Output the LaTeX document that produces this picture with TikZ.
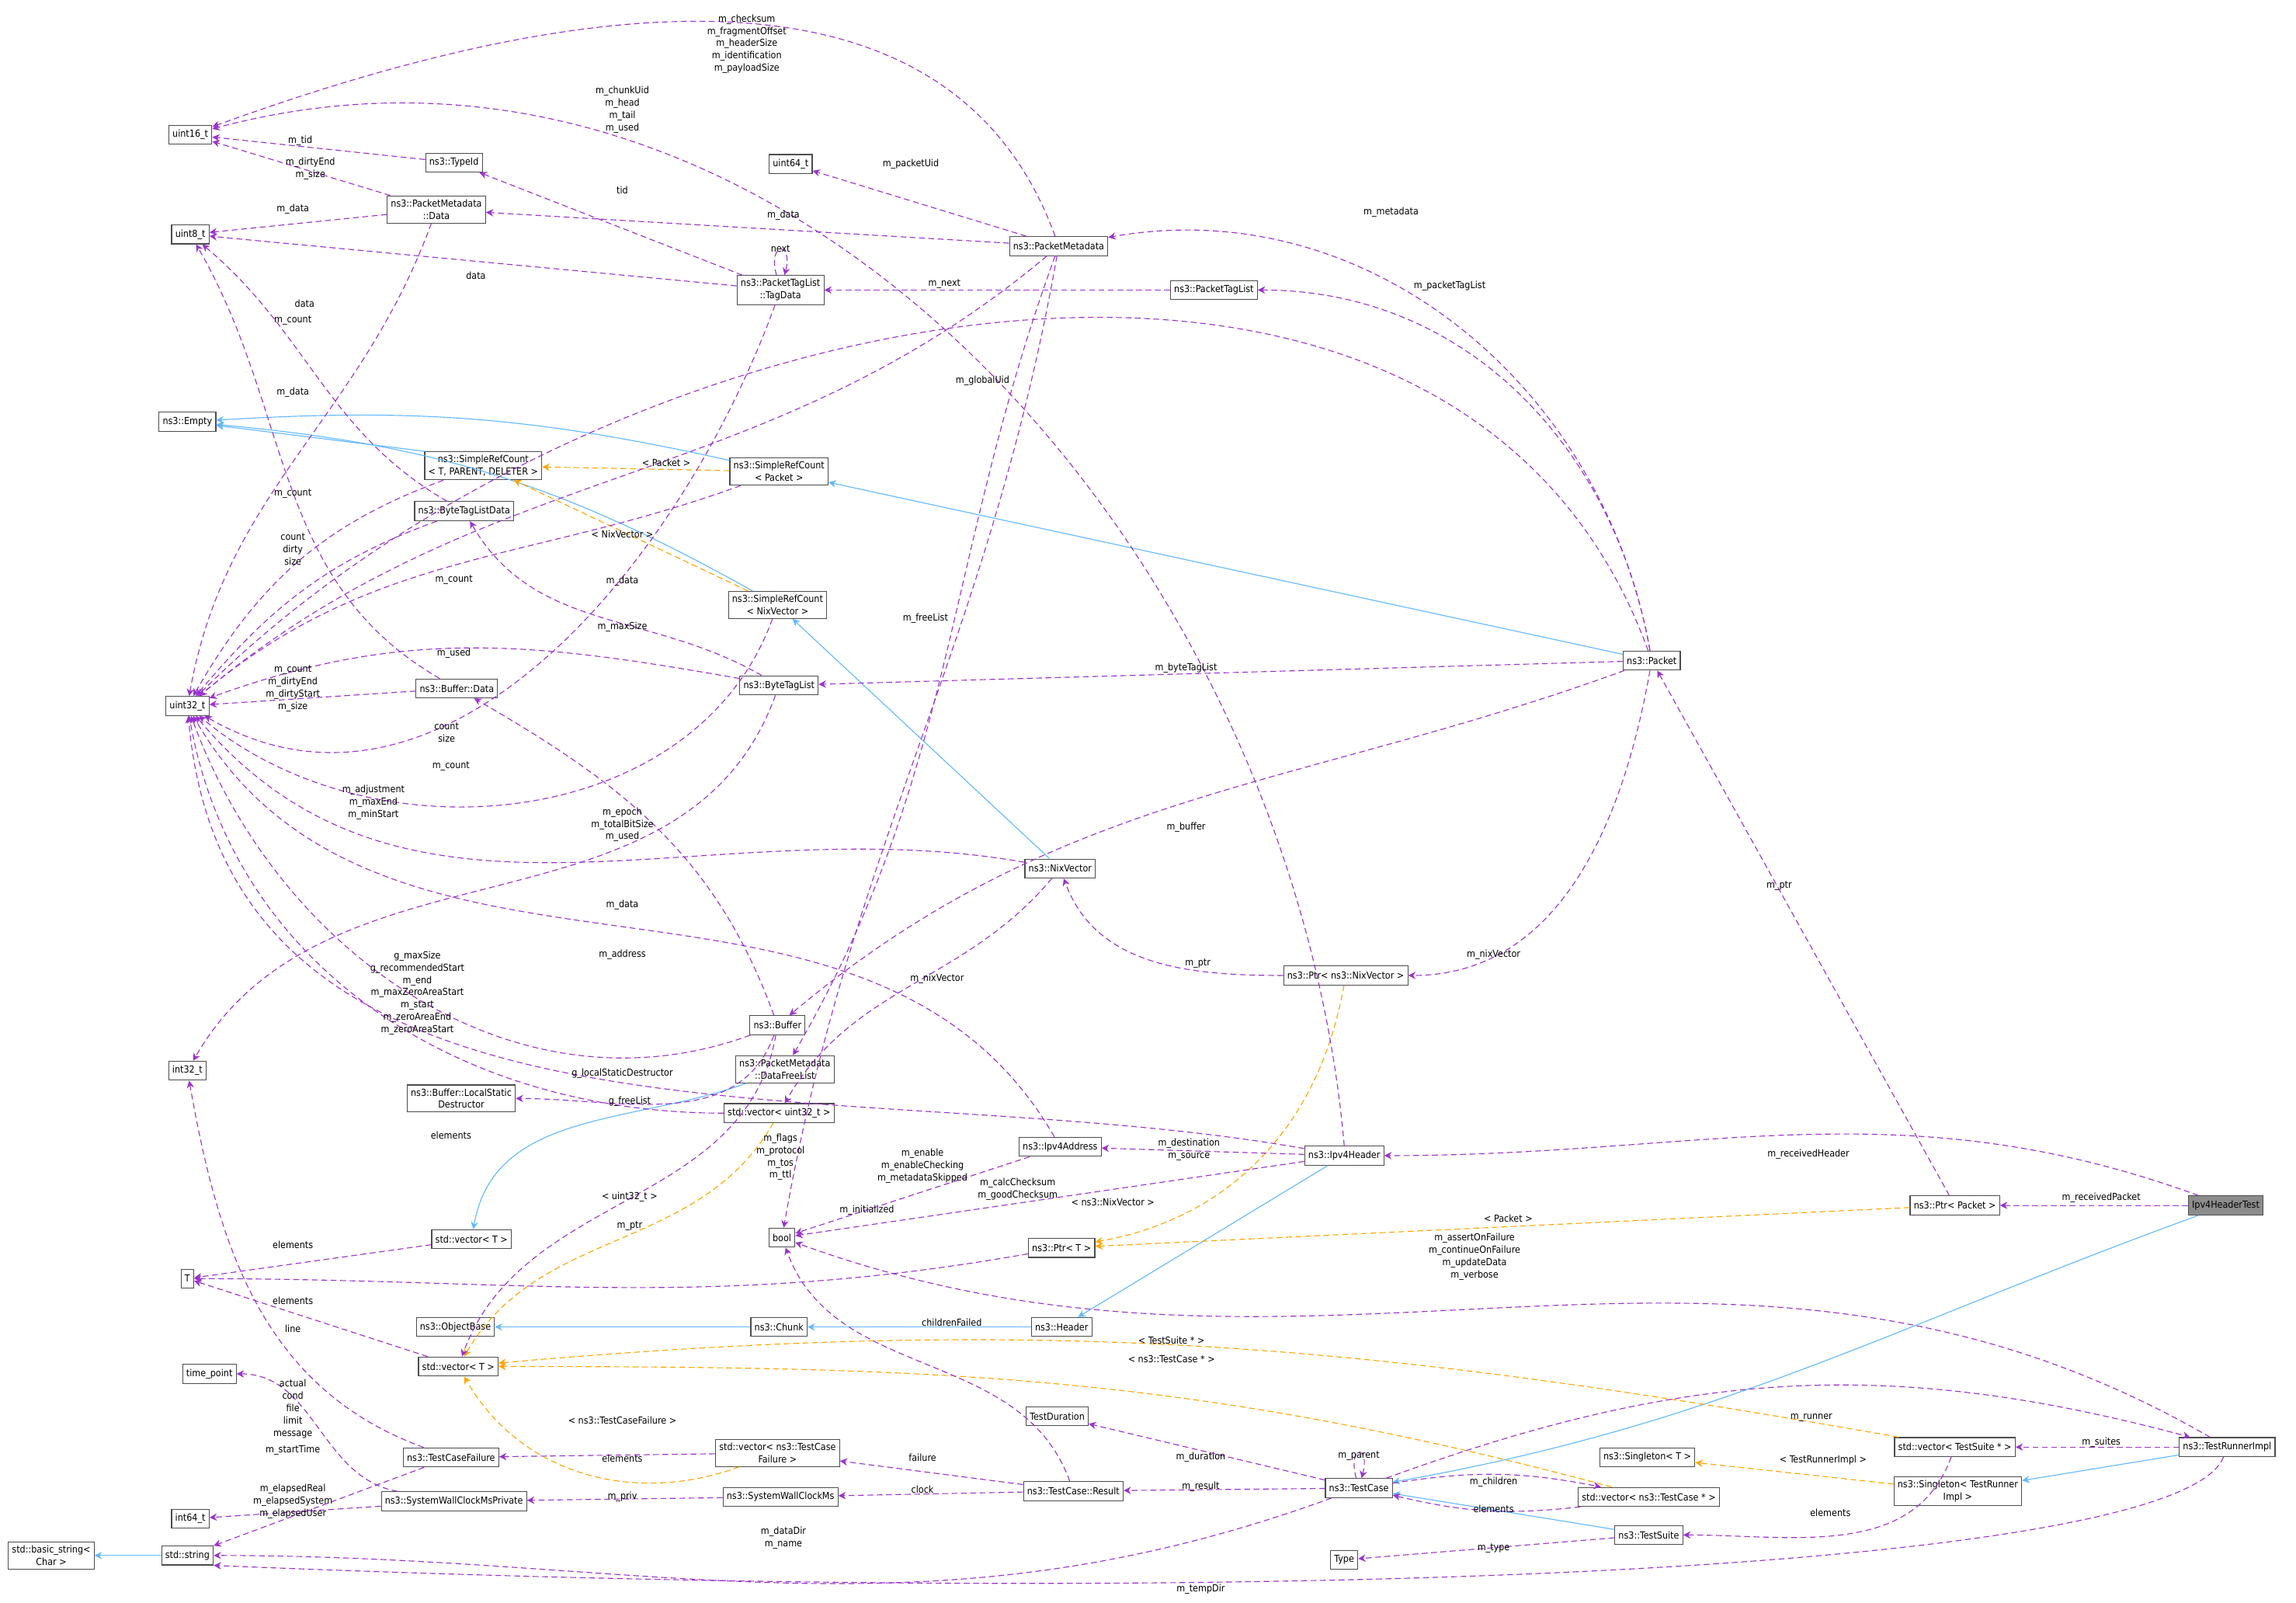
\documentclass[tikz,border=0pt]{standalone}
\usepackage{fontspec}
\setmainfont{DejaVu Sans Condensed}
\usetikzlibrary{arrows.meta,positioning}
\definecolor{usecol}{HTML}{9A32CD}
\definecolor{tplcol}{HTML}{FFA500}
\definecolor{inhcol}{HTML}{63B8FF}
\begin{document}
\begin{tikzpicture}[x=0.5pt,y=-0.5pt, line width=0.3pt,
    every node/.style={font=\fontsize{3.3}{4.2}\selectfont, align=center},
    box/.style={draw=black!70, fill=white, inner sep=1.25pt, minimum height=6.5pt},
    lbl/.style={inner sep=0pt},
    use/.style={draw=usecol, dash pattern=on 2pt off 1.2pt, -{Stealth[length=2.5pt,width=2.5pt]}},
    tpl/.style={draw=tplcol, dash pattern=on 2pt off 1.2pt, -{Stealth[length=2.5pt,width=2.5pt]}},
    inh/.style={draw=inhcol, -{Stealth[length=2.5pt,width=2.5pt]}}
  ]
  \useasboundingbox (0,0) rectangle (1568,1094);
  % left column
  \node [box] (u16) at (130,92) {uint16\_t};
  \node [box] (u8) at (130,160) {uint8\_t};
  \node [box] (empty) at (128,288) {ns3::Empty};
  \node [box] (u32) at (128,482) {uint32\_t};
  \node [box] (i32) at (128,731) {int32\_t};
  \node [box] (T) at (128,873) {T};
  \node [box] (tp) at (143,938) {time\_point};
  \node [box] (i64) at (130,1037) {int64\_t};
  \node [box] (bstr) at (35,1062) {std::basic\_string\textless\\Char \textgreater};
  \node [box] (str) at (128,1062) {std::string};
  % second column
  \node [box] (typeid) at (310,111) {ns3::TypeId};
  \node [box] (pmdata) at (298,143) {ns3::PacketMetadata\\::Data};
  \node [box] (srctpd) at (330,318) {ns3::SimpleRefCount\\\textless{} T, PARENT, DELETER \textgreater};
  \node [box] (btldata) at (317,349) {ns3::ByteTagListData};
  \node [box] (bufdata) at (312,470) {ns3::Buffer::Data};
  \node [box] (buflsd) at (315,750) {ns3::Buffer::LocalStatic\\Destructor};
  \node [box] (vect1) at (322,846) {std::vector\textless{} T \textgreater};
  \node [box] (objbase) at (311,906) {ns3::ObjectBase};
  \node [box] (vect2) at (313,933) {std::vector\textless{} T \textgreater};
  \node [box] (tcfail) at (308,995) {ns3::TestCaseFailure};
  \node [box] (swpriv) at (310,1025) {ns3::SystemWallClockMsPrivate};
  % third column
  \node [box] (u64) at (540,112) {uint64\_t};
  \node [box] (tagdata) at (533,198) {ns3::PacketTagList\\::TagData};
  \node [box] (srcpkt) at (532,322) {ns3::SimpleRefCount\\\textless{} Packet \textgreater};
  \node [box] (srcnix) at (531,413) {ns3::SimpleRefCount\\\textless{} NixVector \textgreater};
  \node [box] (btl) at (532,468) {ns3::ByteTagList};
  \node [box] (buffer) at (531,700) {ns3::Buffer};
  \node [box] (dfl) at (536,730) {ns3::PacketMetadata\\::DataFreeList};
  \node [box] (vecu32) at (532,760) {std::vector\textless{} uint32\_t \textgreater};
  \node [box] (bool) at (534,845) {bool};
  \node [box] (chunk) at (532,906) {ns3::Chunk};
  \node [box] (vecfail) at (531,992) {std::vector\textless{} ns3::TestCase\\Failure \textgreater};
  \node [box] (sw) at (533,1022) {ns3::SystemWallClockMs};
  % fourth column
  \node [box] (pm) at (723,168) {ns3::PacketMetadata};
  \node [box] (ptl) at (829,198) {ns3::PacketTagList};
  \node [box] (nix) at (724,593) {ns3::NixVector};
  \node [box] (ipaddr) at (724,783) {ns3::Ipv4Address};
  \node [box] (ptrt) at (725,852) {ns3::Ptr\textless{} T \textgreater};
  \node [box] (header) at (725,906) {ns3::Header};
  \node [box] (tdur) at (722,967) {TestDuration};
  \node [box] (result) at (733,1018) {ns3::TestCase::Result};
  % fifth column
  \node [box] (type) at (918,1065) {Type};
  \node [box] (packet) at (1128,451) {ns3::Packet};
  \node [box] (ptrnix) at (919,666) {ns3::Ptr\textless{} ns3::NixVector \textgreater};
  \node [box] (iphdr) at (918,789) {ns3::Ipv4Header};
  \node [box] (tc) at (928,1016) {ns3::TestCase};
  \node [box] (vectc) at (1126,1022) {std::vector\textless{} ns3::TestCase * \textgreater};
  \node [box] (ts) at (1126,1048) {ns3::TestSuite};
  \node [box] (singt) at (1125,995) {ns3::Singleton\textless{} T \textgreater};
  % right column
  \node [box] (ptrpkt) at (1335,823) {ns3::Ptr\textless{} Packet \textgreater};
  \node [box] (vecsuite) at (1335,988) {std::vector\textless{} TestSuite * \textgreater};
  \node [box] (singtri) at (1337,1018) {ns3::Singleton\textless{} TestRunner\\Impl \textgreater};
  \node [box, fill=black!45] (test) at (1520,823) {Ipv4HeaderTest};
  \node [box] (tri) at (1521,988) {ns3::TestRunnerImpl};

  % inheritance
  \path (srcpkt) edge[inh, bend right=8] (empty)
    (srcnix) edge[inh, bend right=12] (empty)
    (srctpd.north west) edge[inh] (empty)
    (packet) edge[inh] (srcpkt)
    (nix) edge[inh] (srcnix)
    (dfl) edge[inh, out=200, in=80] (vect1)
    (header) edge[inh] (chunk)
    (chunk) edge[inh] (objbase)
    (iphdr) edge[inh] (header)
    (test) edge[inh, out=200, in=10] (tc)
    (ts) edge[inh] (tc)
    (tri) edge[inh] (singtri)
    (str) edge[inh] (bstr);

  % templates
  \path (srcpkt) edge[tpl] (srctpd)
    (srcnix) edge[tpl] (srctpd)
    (vecu32) edge[tpl, out=240, in=60] (vect2)
    (vecfail) edge[tpl, out=200, in=300] (vect2)
    (vecsuite) edge[tpl, out=170, in=5] (vect2)
    (vectc) edge[tpl, out=165, in=0] (vect2)
    (ptrnix) edge[tpl, out=260, in=10] (ptrt)
    (ptrpkt) edge[tpl] (ptrt)
    (singtri) edge[tpl] (singt);

  % members
  \path (iphdr.north) edge[use, out=95, in=15] (u16)
    (pm) edge[use, out=110, in=20] (u16)
    (pmdata) edge[use] (u16)
    (typeid) edge[use] (u16)
    (pmdata) edge[use] (u8)
    (tagdata) edge[use] (u8)
    (btldata) edge[use, out=150, in=-40] (u8)
    (bufdata) edge[use, out=150, in=-60] (u8)
    (pmdata) edge[use, out=250, in=80] (u32)
    (srctpd) edge[use, out=200, in=60] (u32)
    (btldata) edge[use, out=200, in=50] (u32)
    (srcpkt) edge[use, out=200, in=40] (u32)
    (pm) edge[use, out=220, in=40] (u32)
    (packet) edge[use, out=110, in=45] (u32)
    (btl) edge[use, out=170, in=20] (u32)
    (bufdata) edge[use] (u32)
    (tagdata) edge[use, out=250, in=-30] (u32)
    (srcnix) edge[use, out=250, in=-40] (u32)
    (nix) edge[use, out=170, in=-50] (u32)
    (ipaddr) edge[use, out=120, in=-60] (u32)
    (buffer) edge[use, out=200, in=-70] (u32)
    (vecu32) edge[use, out=180, in=-80] (u32)
    (iphdr) edge[use, out=170, in=-85] (u32)
    (btl) edge[use, out=250, in=60] (i32)
    (buffer) edge[use, out=110, in=-30] (bufdata)
    (btl) edge[use, out=150, in=-60] (btldata)
    (buffer) edge[use, out=250, in=0] (buflsd)
    (buffer) edge[use, out=260, in=70] (vect2)
    (pm) edge[use, out=250, in=60] (dfl)
    (pm) edge[use] (u64)
    (pm) edge[use] (pmdata)
    (tagdata) edge[use, loop above, min distance=12pt] (tagdata)
    (tagdata) edge[use] (typeid)
    (ptl) edge[use] (tagdata)
    (packet) edge[use, out=100, in=10] (pm)
    (packet) edge[use, out=100, in=0] (ptl)
    (packet) edge[use] (btl)
    (packet) edge[use, out=200, in=40] (buffer)
    (packet) edge[use, out=260, in=0] (ptrnix)
    (ptrnix) edge[use, out=180, in=-70] (nix)
    (nix) edge[use, out=230, in=60] (vecu32)
    (pm) edge[use, out=260, in=80] (bool)
    (ipaddr) edge[use] (bool)
    (iphdr) edge[use] (bool)
    (iphdr) edge[use] (ipaddr)
    (ptrt) edge[use, out=190, in=0] (T)
    (tri) edge[use, out=150, in=-20] (bool)
    (test) edge[use, out=160, in=0] (iphdr)
    (test) edge[use] (ptrpkt)
    (ptrpkt) edge[use] (packet)
    (vect1) edge[use] (T)
    (vect2) edge[use] (T)
    (tcfail) edge[use, out=160, in=-80] (i32)
    (tcfail) edge[use] (str)
    (swpriv) edge[use, out=170, in=0] (tp)
    (swpriv) edge[use] (i64)
    (vecfail) edge[use] (tcfail)
    (result) edge[use] (vecfail)
    (result) edge[use] (sw)
    (sw) edge[use] (swpriv)
    (result) edge[use, out=110, in=-70] (bool)
    (tc) edge[use] (tdur)
    (tc) edge[use] (result)
    (tc) edge[use, loop above, min distance=12pt] (tc)
    (tc) edge[use, out=200, in=0] (str)
    (tc) edge[use, bend left=10] (vectc)
    (vectc) edge[use, bend left=10] (tc)
    (ts) edge[use] (type)
    (tc) edge[use, out=20, in=165] (tri)
    (tri) edge[use] (vecsuite)
    (vecsuite) edge[use, out=250, in=0] (ts);
  \draw [use] (tri) .. controls (1490,1070) and (900,1100) .. (str.south east);

  % template labels
  \node [lbl] (t1) at (455,316) {\textless{} Packet \textgreater};
  \node [lbl] (t2) at (425,365) {\textless{} NixVector \textgreater};
  \node [lbl] (t3) at (430,817) {\textless{} uint32\_t \textgreater};
  \node [lbl] (t4) at (760,821) {\textless{} ns3::NixVector \textgreater};
  \node [lbl] (t5) at (1030,832) {\textless{} Packet \textgreater};
  \node [lbl] (t6) at (800,915) {\textless{} TestSuite * \textgreater};
  \node [lbl] (t7) at (800,928) {\textless{} ns3::TestCase * \textgreater};
  \node [lbl] (t8) at (425,970) {\textless{} ns3::TestCaseFailure \textgreater};
  \node [lbl] (t9) at (1245,997) {\textless{} TestRunnerImpl \textgreater};

  % member labels
  \node [lbl] (l1) at (510,30) {m\_checksum\\m\_fragmentOffset\\m\_headerSize\\m\_identification\\m\_payloadSize};
  \node [lbl] (l2) at (425,75) {m\_chunkUid\\m\_head\\m\_tail\\m\_used};
  \node [lbl] (l3) at (212,115) {m\_dirtyEnd\\m\_size};
  \node [lbl] (l4) at (205,96) {m\_tid};
  \node [lbl] (l5) at (200,143) {m\_data};
  \node [lbl] (l6) at (325,188) {data};
  \node [lbl] (l7) at (208,207) {data};
  \node [lbl] (l8) at (200,268) {m\_data};
  \node [lbl] (l9) at (200,219) {m\_count};
  \node [lbl] (l10) at (200,337) {m\_count};
  \node [lbl] (l11) at (200,375) {count\\dirty\\size};
  \node [lbl] (l12) at (310,396) {m\_count};
  \node [lbl] (l13) at (425,428) {m\_maxSize};
  \node [lbl] (l14) at (671,260) {m\_globalUid};
  \node [lbl] (l15) at (310,446) {m\_used};
  \node [lbl] (l16) at (200,470) {m\_count\\m\_dirtyEnd\\m\_dirtyStart\\m\_size};
  \node [lbl] (l17) at (305,500) {count\\size};
  \node [lbl] (l18) at (308,523) {m\_count};
  \node [lbl] (l19) at (425,563) {m\_epoch\\m\_totalBitSize\\m\_used};
  \node [lbl] (l20) at (425,652) {m\_address};
  \node [lbl] (l21) at (285,678) {g\_maxSize\\g\_recommendedStart\\m\_end\\m\_maxZeroAreaStart\\m\_start\\m\_zeroAreaEnd\\m\_zeroAreaStart};
  \node [lbl] (l22) at (308,775) {elements};
  \node [lbl] (l23) at (533,790) {m\_flags\\m\_protocol\\m\_tos\\m\_ttl};
  \node [lbl] (l24) at (255,548) {m\_adjustment\\m\_maxEnd\\m\_minStart};
  \node [lbl] (l25) at (425,618) {m\_data};
  \node [lbl] (l26) at (425,397) {m\_data};
  \node [lbl] (l27) at (425,733) {g\_localStaticDestructor};
  \node [lbl] (l28) at (430,752) {g\_freeList};
  \node [lbl] (l29) at (632,422) {m\_freeList};
  \node [lbl] (l30) at (622,112) {m\_packetUid};
  \node [lbl] (l31) at (535,147) {m\_data};
  \node [lbl] (l32) at (425,130) {tid};
  \node [lbl] (l33) at (533,170) {next};
  \node [lbl] (l34) at (645,194) {m\_next};
  \node [lbl] (l35) at (950,145) {m\_metadata};
  \node [lbl] (l36) at (990,195) {m\_packetTagList};
  \node [lbl] (l37) at (810,456) {m\_byteTagList};
  \node [lbl] (l38) at (810,565) {m\_buffer};
  \node [lbl] (l39) at (1020,652) {m\_nixVector};
  \node [lbl] (l40) at (818,658) {m\_ptr};
  \node [lbl] (l41) at (640,668) {m\_nixVector};
  \node [lbl] (l42) at (630,796) {m\_enable\\m\_enableChecking\\m\_metadataSkipped};
  \node [lbl] (l43) at (592,826) {m\_initialized};
  \node [lbl] (l44) at (695,812) {m\_calcChecksum\\m\_goodChecksum};
  \node [lbl] (l45) at (812,785) {m\_destination\\m\_source};
  \node [lbl] (l46) at (430,837) {m\_ptr};
  \node [lbl] (l47) at (1007,858) {m\_assertOnFailure\\m\_continueOnFailure\\m\_updateData\\m\_verbose};
  \node [lbl] (l48) at (1235,788) {m\_receivedHeader};
  \node [lbl] (l49) at (1435,818) {m\_receivedPacket};
  \node [lbl] (l50) at (1215,605) {m\_ptr};
  \node [lbl] (l51) at (200,850) {elements};
  \node [lbl] (l52) at (200,888) {elements};
  \node [lbl] (l53) at (200,907) {line};
  \node [lbl] (l54) at (200,962) {actual\\cond\\file\\limit\\message};
  \node [lbl] (l55) at (200,990) {m\_startTime};
  \node [lbl] (l56) at (200,1025) {m\_elapsedReal\\m\_elapsedSystem\\m\_elapsedUser};
  \node [lbl] (l57) at (425,996) {elements};
  \node [lbl] (l58) at (630,995) {failure};
  \node [lbl] (l59) at (630,1017) {clock};
  \node [lbl] (l60) at (425,1022) {m\_priv};
  \node [lbl] (l61) at (650,903) {childrenFailed};
  \node [lbl] (l62) at (820,995) {m\_duration};
  \node [lbl] (l63) at (820,1015) {m\_result};
  \node [lbl] (l64) at (928,994) {m\_parent};
  \node [lbl] (l65) at (535,1050) {m\_dataDir\\m\_name};
  \node [lbl] (l66) at (1020,1012) {m\_children};
  \node [lbl] (l67) at (1020,1030) {elements};
  \node [lbl] (l68) at (1020,1057) {m\_type};
  \node [lbl] (l69) at (1237,968) {m\_runner};
  \node [lbl] (l70) at (1435,985) {m\_suites};
  \node [lbl] (l71) at (1250,1033) {elements};
  \node [lbl] (l72) at (820,1085) {m\_tempDir};
\end{tikzpicture}
\end{document}
